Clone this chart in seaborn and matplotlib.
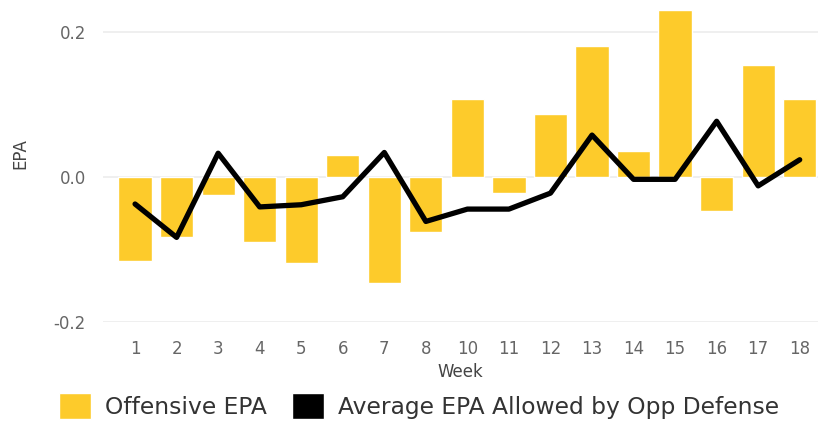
import numpy as np
import pandas as pd
import seaborn as sns
import matplotlib.pyplot as plt
from matplotlib.patches import Patch

weeks = ["1", "2", "3", "4", "5", "6", "7", "8", "10", "11", "12", "13", "14", "15", "16", "17", "18"]
offensive_epa = [-0.116, -0.082, -0.025, -0.090, -0.118, 0.030, -0.146, -0.075, 0.107,
                 -0.022, 0.087, 0.181, 0.036, 0.230, -0.047, 0.154, 0.108]
opp_def_epa = [-0.037, -0.083, 0.033, -0.041, -0.038, -0.027, 0.034, -0.061, -0.044,
               -0.044, -0.022, 0.058, -0.003, -0.003, 0.077, -0.012, 0.024]

df = pd.DataFrame({"Week": weeks, "Offensive": offensive_epa, "Allowed": opp_def_epa})

sns.set_theme(style="white")
plt.rcParams['font.family'] = ['DejaVu Sans']

bar_color = "#FDCB2B"
text_grey = "#666666"

fig = plt.figure(figsize=(8.18, 4.23), dpi=100)
ax = fig.add_axes([0.1255, 0.238, 0.875, 0.755])

sns.barplot(data=df, x="Week", y="Offensive", color=bar_color, width=0.8,
            saturation=1, ax=ax, zorder=2)
sns.lineplot(x=np.arange(len(weeks)), y=df["Allowed"], color="black",
             linewidth=3.8, ax=ax, zorder=3)

ax.set_ylim(-0.2, 0.24)
ax.set_xlim(-0.78, len(weeks) - 0.55)
ax.set_yticks([-0.2, 0.0, 0.2])
ax.set_yticklabels(["-0.2", "0.0", "0.2"])
ax.yaxis.grid(True, color="#ececec", linewidth=1.2, zorder=0)
ax.set_axisbelow(True)
for s in ax.spines.values():
    s.set_visible(False)
ax.tick_params(axis="both", length=0, labelsize=12, labelcolor=text_grey)
ax.tick_params(axis="x", pad=13)
ax.tick_params(axis="y", pad=12)
ax.set_xlabel("Week", fontsize=12, color="#444444", labelpad=3)
ax.set_ylabel("EPA", fontsize=12, color="#444444")
ax.yaxis.set_label_coords(-0.103, 0.53)

handles = [Patch(facecolor=bar_color, label="Offensive EPA"),
           Patch(facecolor="black", label="Average EPA Allowed by Opp Defense")]
fig.legend(handles=handles, loc="lower left", bbox_to_anchor=(0.047, -0.04), ncol=2,
           frameon=False, fontsize=16.8, handlelength=1.35, handleheight=1.35,
           handletextpad=0.6, columnspacing=1.1, labelcolor="#333333")

fig.savefig("out.png", dpi=100)
